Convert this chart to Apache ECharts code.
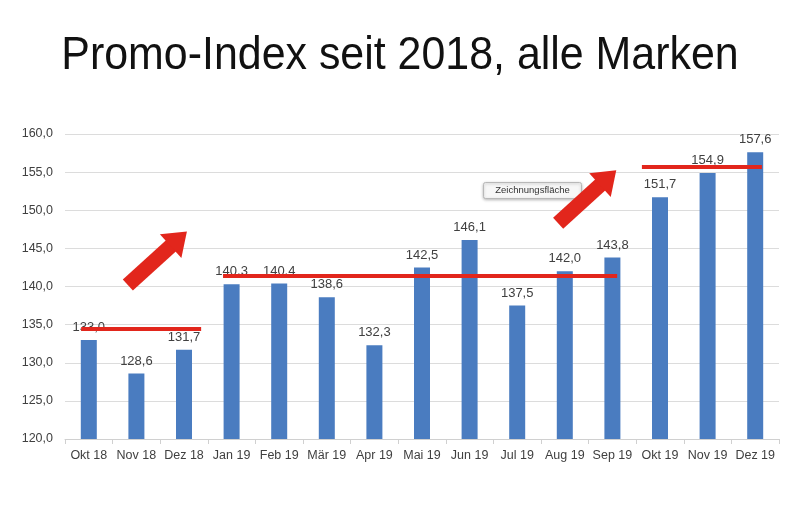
<!DOCTYPE html>
<html><head><meta charset="utf-8">
<script src="https://cdn.jsdelivr.net/npm/echarts@6/dist/echarts.min.js"></script>
<style>html,body{margin:0;padding:0;background:#fff}#c{width:800px;height:532px}</style>
</head><body><div id="c"></div>
<script>
var categories = ['Okt 18','Nov 18','Dez 18','Jan 19','Feb 19','Mär 19','Apr 19','Mai 19','Jun 19','Jul 19','Aug 19','Sep 19','Okt 19','Nov 19','Dez 19'];
var values = [133.0,128.6,131.7,140.3,140.4,138.6,132.3,142.5,146.1,137.5,142.0,143.8,151.7,154.9,157.6];
// annotation lines: [xStart, xEnd, level] in category-index units
var levelLines = [[-0.16,2.36,134.4],[2.82,11.1,141.4],[11.62,14.14,155.7]];
// arrows: [xTail, yTail, xHead, yHead]
var arrows = [[0.82,140.2,1.89,146.26],[9.86,148.3,10.91,154.26]];

var fmt = function(v){ return v.toFixed(1).replace('.', ','); };
var chart = echarts.init(document.getElementById('c'));
var red = '#e2261c';
var markData = [];
levelLines.forEach(function(l){
  markData.push([{coord:[l[0],l[2]], lineStyle:{width:4,color:red,type:'solid'}, symbol:'none'},{coord:[l[1],l[2]], symbol:'none'}]);
});
arrows.forEach(function(a){
  markData.push([{coord:[a[0],a[1]], lineStyle:{width:15,color:red,type:'solid',cap:'butt'}, symbol:'none'},{coord:[a[2],a[3]], symbol:'triangle', symbolSize:[32,22]}]);
});
chart.setOption({
  animation:false,
  backgroundColor:'#fff',
  grid:{left:65,right:21,top:134,bottom:93},
  xAxis:[{type:'category',data:categories,axisLine:{lineStyle:{color:'#d0d0d0'}},axisTick:{show:true,length:5,lineStyle:{color:'#d0d0d0'}},
    axisLabel:{color:'#404040',fontSize:12.5,fontFamily:'Liberation Sans',margin:10,interval:0}},
    {type:'value',min:-0.5,max:14.5,show:false}],
  yAxis:{type:'value',min:120,max:160,interval:5,axisLabel:{formatter:fmt,color:'#404040',fontSize:12.5,fontFamily:'Liberation Sans',margin:12},
    axisLine:{show:false},axisTick:{show:false},splitLine:{lineStyle:{color:'#dcdcdc'}}},
  series:[{type:'bar',data:values,barWidth:16,itemStyle:{color:'#4a7cc0'},
    label:{show:true,position:'top',distance:6,formatter:function(p){return fmt(p.value);},color:'#404040',fontSize:13,fontFamily:'Liberation Sans'}},
    {type:'line',xAxisIndex:1,data:[],silent:true,
     markLine:{silent:true,animation:false,label:{show:false},symbol:'none',data:markData}}],
  graphic:[
    {type:'text',x:400,y:56,scaleX:0.913,originX:0,style:{text:'Promo-Index seit 2018, alle Marken',align:'center',verticalAlign:'middle',fontSize:47,fontFamily:'Liberation Sans',fill:'#111'}},
    {type:'group',left:483,top:182,children:[
    {type:'rect',shape:{x:0,y:0,width:98,height:16,r:2},style:{fill:'#f7f7f7',stroke:'#b8b8b8',lineWidth:1,shadowBlur:3,shadowColor:'rgba(0,0,0,0.25)',shadowOffsetY:1}},
    {type:'text',style:{x:49,y:8,text:'Zeichnungsfläche',align:'center',verticalAlign:'middle',fontSize:9.5,fontFamily:'Liberation Sans',fill:'#333'}}]}]
});
</script></body></html>
